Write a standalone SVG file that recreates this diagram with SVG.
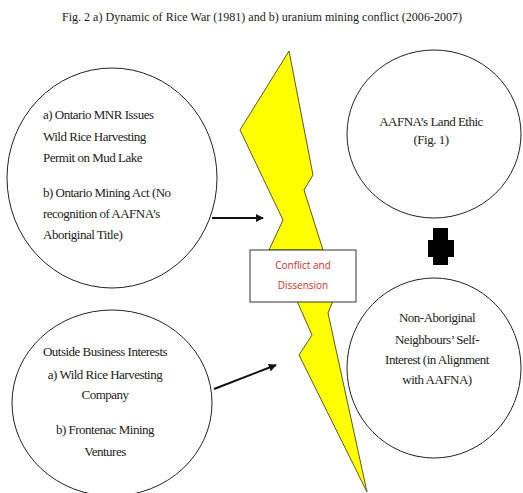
<svg xmlns="http://www.w3.org/2000/svg" width="523" height="493" viewBox="0 0 523 493">
<defs>
<style>
.t{font-family:"Liberation Serif","Times New Roman",serif;font-size:13px;letter-spacing:-0.5px;fill:#222}
.c{fill:#fff;stroke:#222;stroke-width:1}
.r{font-family:"Open Sans","Liberation Sans",sans-serif;font-size:10px;fill:#d0302a}
.bolt{fill:#ffff00;stroke:#5a5a2a;stroke-width:1;stroke-linejoin:miter}
.ln{stroke:#111;stroke-width:2;fill:none}
</style>
<marker id="ah" viewBox="0 0 10 10" refX="9" refY="5" markerWidth="4" markerHeight="4" orient="auto" markerUnits="strokeWidth">
<path d="M0,0 L10,5 L0,10 z" fill="#111"/>
</marker>
</defs>
<rect width="523" height="493" fill="#fff"/>
<text x="262" y="21" text-anchor="middle" textLength="400" lengthAdjust="spacingAndGlyphs" style="font-family:'Liberation Serif','Times New Roman',serif;font-size:13px;fill:#222">Fig. 2 a) Dynamic of Rice War (1981) and b) uranium mining conflict (2006-2007)</text>

<g id="bolt">
<polygon class="bolt" points="289,51 313,175 304,190 323,250 269,250 283,220 240,130"/>
<polygon class="bolt" points="297,301 312,335 299,355 367,492 328,313 333,301"/>
</g>

<g id="n1">
<ellipse class="c" cx="112" cy="178" rx="105" ry="110"/>
<text class="t" x="43" y="119">a) Ontario MNR Issues</text>
<text class="t" x="43" y="141">Wild Rice Harvesting</text>
<text class="t" x="43" y="162">Permit on Mud Lake</text>
<text class="t" x="43" y="197">b) Ontario Mining Act (No</text>
<text class="t" x="43" y="218">recognition of AAFNA’s</text>
<text class="t" x="43" y="239">Aboriginal Title)</text>
</g>

<g id="n2">
<ellipse class="c" cx="112" cy="403" rx="100" ry="93"/>
<g class="t" text-anchor="middle">
<text x="105" y="356">Outside Business Interests</text>
<text x="105" y="379">a) Wild Rice Harvesting</text>
<text x="105" y="399">Company</text>
<text x="105" y="434">b) Frontenac Mining</text>
<text x="105" y="456">Ventures</text>
</g>
</g>

<g id="n3">
<rect x="250" y="250" width="106" height="52" fill="#fff" stroke="#333" stroke-width="1"/>
<text class="r" x="303" y="269" text-anchor="middle">Conflict and</text>
<text class="r" x="303" y="289" text-anchor="middle">Dissension</text>
</g>

<g id="n4">
<ellipse class="c" cx="434" cy="134" rx="87" ry="84"/>
<g class="t" text-anchor="middle">
<text x="431" y="126">AAFNA’s Land Ethic</text>
<text x="431" y="144">(Fig. 1)</text>
</g>
</g>

<g id="n5">
<ellipse class="c" cx="434" cy="368" rx="87" ry="90"/>
<g class="t" text-anchor="middle">
<text x="437" y="322">Non-Aboriginal</text>
<text x="437" y="344">Neighbours’ Self-</text>
<text x="437" y="364">Interest (in Alignment</text>
<text x="437" y="384">with AAFNA)</text>
</g>
</g>

<g id="plus">
<polygon points="433,228 448,228 448,240 454,240 454,257 448,257 448,265 433,265 433,257 428,257 428,240 433,240" fill="#000"/>
</g>

<g id="connectors">
<line class="ln" x1="212" y1="218" x2="263" y2="218" marker-end="url(#ah)"/>
<line class="ln" x1="214" y1="389" x2="276" y2="365" marker-end="url(#ah)"/>
</g>
</svg>
